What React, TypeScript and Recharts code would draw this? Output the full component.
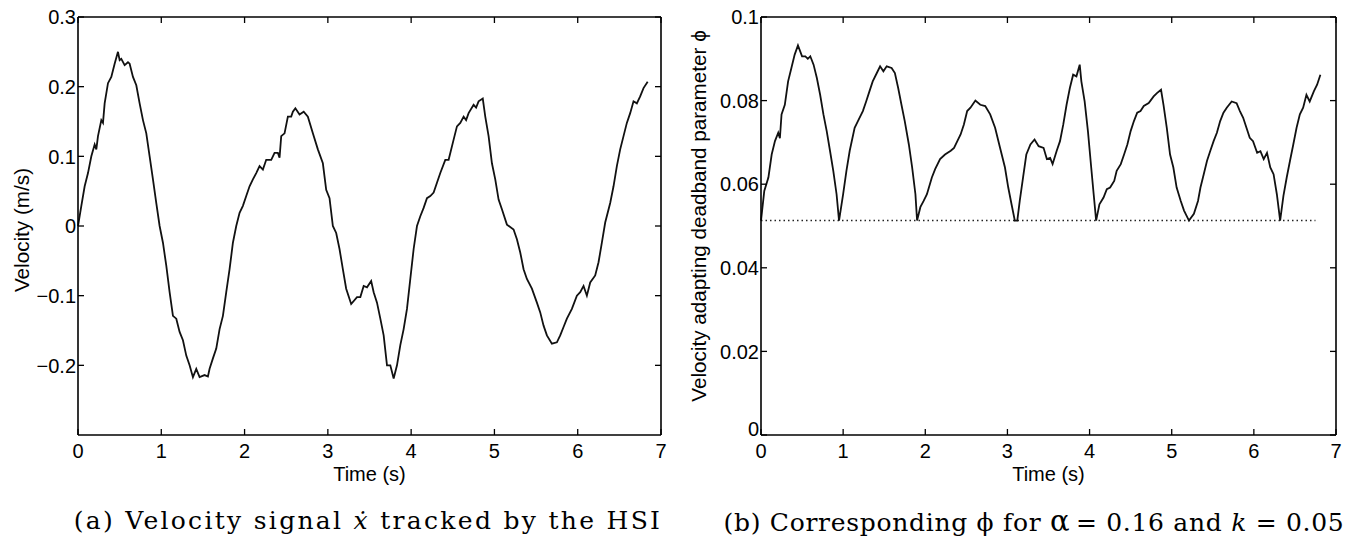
import React from "react";
import { LineChart, Line, XAxis, YAxis } from "recharts";

// ---- tick values ----
const timeTicks = [0, 1, 2, 3, 4, 5, 6, 7];
const velocityTicks = [-0.2, -0.1, 0, 0.1, 0.2, 0.3];
const phiTicks = [0, 0.02, 0.04, 0.06, 0.08, 0.1];

// ---- (a) velocity tracked by the HSI ----
const velTime = [
  0, 0.04, 0.08, 0.12, 0.16, 0.2, 0.22, 0.24, 0.28, 0.3,
  0.32, 0.36, 0.4, 0.44, 0.48, 0.5, 0.52, 0.56, 0.6, 0.62,
  0.66, 0.7, 0.74, 0.78, 0.82, 0.86, 0.9, 0.94, 0.98, 1.02,
  1.06, 1.1, 1.14, 1.18, 1.22, 1.26, 1.3, 1.34, 1.38, 1.42,
  1.46, 1.52, 1.56, 1.58, 1.62, 1.66, 1.7, 1.74, 1.78, 1.82,
  1.86, 1.9, 1.94, 1.98, 2.02, 2.06, 2.1, 2.14, 2.18, 2.22,
  2.26, 2.32, 2.36, 2.4, 2.42, 2.44, 2.48, 2.52, 2.56, 2.58,
  2.61, 2.66, 2.71, 2.76, 2.82, 2.88, 2.94, 2.98, 3.02, 3.06,
  3.1, 3.14, 3.18, 3.22, 3.28, 3.35, 3.39, 3.43, 3.47, 3.52,
  3.55, 3.59, 3.63, 3.67, 3.71, 3.75, 3.79, 3.83, 3.87, 3.91,
  3.95, 3.99, 4.03, 4.07, 4.11, 4.15, 4.19, 4.23, 4.27, 4.31,
  4.35, 4.41, 4.45, 4.51, 4.55, 4.59, 4.63, 4.66, 4.69, 4.75,
  4.78, 4.81, 4.86, 4.89, 4.93, 4.97, 5.01, 5.05, 5.09, 5.15,
  5.23, 5.27, 5.31, 5.35, 5.39, 5.45, 5.51, 5.55, 5.59, 5.63,
  5.69, 5.75, 5.79, 5.83, 5.87, 5.93, 5.99, 6.03, 6.07, 6.11,
  6.15, 6.21, 6.25, 6.29, 6.33, 6.39, 6.43, 6.47, 6.51, 6.55,
  6.59, 6.63, 6.67, 6.71, 6.75, 6.79, 6.84,
];
const velocity = [
  0, 0.029, 0.057, 0.076, 0.1, 0.117, 0.11, 0.129, 0.152, 0.148,
  0.176, 0.205, 0.214, 0.233, 0.25, 0.238, 0.24, 0.231, 0.235, 0.233,
  0.214, 0.202, 0.176, 0.152, 0.133, 0.1, 0.067, 0.033, 0, -0.024,
  -0.057, -0.095, -0.129, -0.133, -0.152, -0.164, -0.186, -0.2, -0.217, -0.205,
  -0.217, -0.214, -0.216, -0.205, -0.19, -0.176, -0.148, -0.129, -0.095, -0.062,
  -0.024, 0, 0.019, 0.029, 0.043, 0.057, 0.067, 0.076, 0.086, 0.081,
  0.095, 0.095, 0.105, 0.105, 0.098, 0.129, 0.133, 0.157, 0.157, 0.164,
  0.169, 0.16, 0.164, 0.157, 0.133, 0.11, 0.09, 0.052, 0.04, 0,
  -0.01, -0.033, -0.062, -0.09, -0.112, -0.102, -0.102, -0.086, -0.088, -0.079,
  -0.095, -0.11, -0.133, -0.157, -0.2, -0.2, -0.219, -0.2, -0.171, -0.148,
  -0.119, -0.076, -0.033, 0, 0.014, 0.026, 0.04, 0.043, 0.048, 0.062,
  0.076, 0.095, 0.095, 0.124, 0.143, 0.148, 0.157, 0.152, 0.162, 0.174,
  0.17, 0.179, 0.183, 0.157, 0.129, 0.09, 0.067, 0.038, 0.024, 0.002,
  -0.005, -0.019, -0.038, -0.062, -0.076, -0.09, -0.11, -0.124, -0.143, -0.157,
  -0.169, -0.167, -0.157, -0.145, -0.133, -0.119, -0.1, -0.095, -0.086, -0.1,
  -0.081, -0.071, -0.052, -0.024, 0.005, 0.033, 0.057, 0.086, 0.11, 0.129,
  0.148, 0.162, 0.179, 0.176, 0.186, 0.198, 0.207,
];

// ---- (b) deadband parameter phi ----
const phiTime = [
  0, 0.04, 0.09, 0.13, 0.17, 0.21, 0.23, 0.25, 0.29, 0.33,
  0.37, 0.41, 0.45, 0.5, 0.54, 0.57, 0.6, 0.64, 0.68, 0.72,
  0.76, 0.8, 0.84, 0.88, 0.92, 0.95, 1.0, 1.04, 1.08, 1.14,
  1.18, 1.24, 1.28, 1.32, 1.36, 1.41, 1.45, 1.49, 1.53, 1.59,
  1.63, 1.67, 1.71, 1.75, 1.8, 1.84, 1.88, 1.9, 1.94, 1.98,
  2.02, 2.08, 2.12, 2.18, 2.24, 2.31, 2.35, 2.39, 2.43, 2.47,
  2.51, 2.55, 2.61, 2.67, 2.73, 2.79, 2.85, 2.91, 2.97, 3.01,
  3.05, 3.09, 3.12, 3.15, 3.19, 3.23, 3.28, 3.33, 3.38, 3.44,
  3.48, 3.52, 3.55, 3.6, 3.64, 3.68, 3.72, 3.76, 3.8, 3.84,
  3.88, 3.9, 3.94, 3.98, 4.02, 4.05, 4.08, 4.12, 4.17, 4.21,
  4.25, 4.3, 4.33, 4.38, 4.42, 4.46, 4.5, 4.54, 4.58, 4.62,
  4.66, 4.72, 4.78, 4.82, 4.87, 4.9, 4.94, 4.98, 5.02, 5.06,
  5.11, 5.15, 5.21, 5.27, 5.32, 5.35, 5.39, 5.43, 5.47, 5.51,
  5.55, 5.59, 5.63, 5.67, 5.73, 5.79, 5.83, 5.87, 5.91, 5.95,
  5.99, 6.04, 6.08, 6.12, 6.16, 6.2, 6.24, 6.28, 6.32, 6.36,
  6.4, 6.44, 6.48, 6.52, 6.56, 6.6, 6.64, 6.68, 6.73, 6.77,
  6.81,
];
const phi = [
  0.0513, 0.0584, 0.0616, 0.0671, 0.0703, 0.0723, 0.071, 0.0767, 0.079, 0.0846,
  0.0878, 0.091, 0.0932, 0.0906, 0.0906, 0.09, 0.0906, 0.0886, 0.0854, 0.0814,
  0.0767, 0.0727, 0.068, 0.0632, 0.0576, 0.0513, 0.0576, 0.0632, 0.068, 0.0735,
  0.0751, 0.0775, 0.0798, 0.0822, 0.0846, 0.0866, 0.0882, 0.087, 0.0882, 0.0878,
  0.0866, 0.083, 0.079, 0.0751, 0.0695, 0.064, 0.0576, 0.0513, 0.0545, 0.056,
  0.0576, 0.0616, 0.0636, 0.066, 0.0671, 0.068, 0.0687, 0.0703, 0.0719, 0.0743,
  0.0775, 0.0783, 0.08, 0.079, 0.0787, 0.0767, 0.0735, 0.0687, 0.064, 0.0592,
  0.0552, 0.0513, 0.0513, 0.056, 0.0616, 0.0671, 0.0695, 0.0707, 0.0691, 0.0687,
  0.066, 0.0663, 0.0648, 0.068, 0.0703, 0.0743, 0.079, 0.083, 0.0862, 0.0858,
  0.0886, 0.0846, 0.0798, 0.0727, 0.064, 0.0576, 0.0513, 0.0552, 0.0568, 0.0588,
  0.0592, 0.0608, 0.0632, 0.0648, 0.0671, 0.0695, 0.0727, 0.0751, 0.0771, 0.0775,
  0.0787, 0.0794, 0.081, 0.0818, 0.0826, 0.079, 0.0735, 0.0671, 0.064, 0.0592,
  0.056, 0.0537, 0.0513, 0.0529, 0.056, 0.0592, 0.0624, 0.0656, 0.068, 0.0703,
  0.0723, 0.0751, 0.0771, 0.0783, 0.0798, 0.0794, 0.0775, 0.0759, 0.0735, 0.0711,
  0.0703, 0.0675, 0.0679, 0.066, 0.0675, 0.064, 0.0624, 0.0576, 0.0513, 0.0572,
  0.0616, 0.0656, 0.0695, 0.0735, 0.0767, 0.0783, 0.0814, 0.0798, 0.0822, 0.0838,
  0.0862,
];
// dotted lower bound of phi
const phiFloorTime = [0, 6.75];
const phiFloor = [0.0513, 0.0513];

const velData = velTime.map((t, i) => ({ t, v: velocity[i] }));
const phiData = phiTime.map((t, i) => ({ t, v: phi[i] }));
const floorData = phiFloorTime.map((t, i) => ({ t, v: phiFloor[i] }));

const SANS = '"Liberation Sans", Arial, Helvetica, sans-serif';
const tickFont = { fontSize: 20, fill: "#000", fontFamily: SANS };
const axisStroke = { stroke: "#000", strokeWidth: 1.6 };
const tickStroke = { stroke: "#000", strokeWidth: 1.3 };

const NoTick = () => <g />;

const fmtVel = (v: number) => (v < 0 ? "\u2212" + Math.abs(v) : String(v));

// y tick label; the zero label sits a little high so it clears the x "0"
function makeYTick(fmt: (v: number) => string, liftZero: number) {
  return (props: any) => {
    const { x, y, payload } = props;
    const lift = payload.value === 0 ? liftZero : 0;
    return (
      <text
        x={x}
        y={y - lift}
        dy="0.36em"
        textAnchor="end"
        fontSize={20}
        fill="#000"
        fontFamily={SANS}
      >
        {fmt(payload.value)}
      </text>
    );
  };
}

// box with inward ticks on all four sides, MATLAB style
function boxAxes(
  yDomain: number[],
  yTicks: number[],
  yFmt: (v: number) => string,
  liftZero: number,
  yWidth: number,
  yLabel: string,
  yLabelDx: number,
  yLabelDy: number
) {
  return [
    <XAxis
      key="xb"
      dataKey="t"
      type="number"
      domain={[0, 7]}
      ticks={timeTicks}
      interval={0}
      height={60}
      tickSize={-6}
      tickMargin={15}
      tick={tickFont}
      axisLine={axisStroke}
      tickLine={tickStroke}
      label={{
        value: "Time (s)",
        position: "center",
        dy: 9,
        style: { fontSize: 20, fill: "#000", fontFamily: SANS },
      }}
    />,
    <XAxis
      key="xt"
      xAxisId="top"
      orientation="top"
      dataKey="t"
      type="number"
      domain={[0, 7]}
      ticks={timeTicks}
      interval={0}
      height={1}
      tickSize={-6}
      tick={NoTick}
      axisLine={axisStroke}
      tickLine={tickStroke}
    />,
    <YAxis
      key="yl"
      type="number"
      domain={yDomain}
      ticks={yTicks}
      interval={0}
      width={yWidth}
      tickSize={-6}
      tickMargin={8}
      tick={makeYTick(yFmt, liftZero)}
      axisLine={axisStroke}
      tickLine={tickStroke}
      label={{
        value: yLabel,
        angle: -90,
        position: "center",
        dx: yLabelDx,
        dy: yLabelDy,
        style: { fontSize: 20.7, fill: "#000", fontFamily: SANS },
      }}
    />,
    <YAxis
      key="yr"
      yAxisId="right"
      orientation="right"
      type="number"
      domain={yDomain}
      ticks={yTicks}
      interval={0}
      width={1}
      tickSize={-6}
      tick={NoTick}
      axisLine={axisStroke}
      tickLine={tickStroke}
    />,
  ];
}

const captionStyle: React.CSSProperties = {
  position: "absolute",
  top: 506,
  fontFamily: '"DejaVu Serif", "Liberation Serif", serif',
  fontSize: 25,
  lineHeight: "30px",
  whiteSpace: "nowrap",
  color: "#000",
  transform: "translateX(-50%)",
};

export default function App() {
  return (
    <div style={{ position: "absolute", left: 0, top: 0, width: 1347, height: 542, background: "#fff", overflow: "hidden" }}>
      <div style={{ position: "absolute", left: 0, top: 0 }}>
        <LineChart width={680} height={542} data={velData} margin={{ top: 16, right: 18, bottom: 47, left: 0 }}>
          {boxAxes([-0.3, 0.3], velocityTicks, fmtVel, 0, 78, "Velocity (m/s)", -17, 4)}
          {/* invisible twin so the top and right frame axes get a scale */}
          <Line
            xAxisId="top"
            yAxisId="right"
            dataKey="v"
            stroke="none"
            dot={false}
            activeDot={false}
            isAnimationActive={false}
          />
          <Line
            dataKey="v"
            type="linear"
            stroke="#111"
            strokeWidth={1.8}
            dot={false}
            isAnimationActive={false}
          />
        </LineChart>
      </div>
      <div style={{ position: "absolute", left: 680, top: 0 }}>
        <LineChart width={667} height={542} data={phiData} margin={{ top: 16, right: 10, bottom: 47, left: 0 }}>
          {boxAxes([0, 0.1], phiTicks, (v) => String(v), 6, 81, "Velocity adapting deadband parameter \u03d5", -22, -10)}
          <Line
            xAxisId="top"
            yAxisId="right"
            data={floorData}
            dataKey="v"
            type="linear"
            stroke="#222"
            strokeWidth={1.5}
            strokeDasharray="1.5 3"
            dot={false}
            isAnimationActive={false}
          />
          <Line
            dataKey="v"
            type="linear"
            stroke="#111"
            strokeWidth={1.8}
            dot={false}
            isAnimationActive={false}
          />
        </LineChart>
      </div>
      <div style={{ ...captionStyle, left: 368, letterSpacing: 2.3 }}>
        (a) Velocity signal <i>{"\u1e8b"}</i> tracked by the HSI
      </div>
      <div style={{ ...captionStyle, left: 1034, letterSpacing: 0.7 }}>
        (b) Corresponding {"\u03d5"} for <span style={{ fontSize: 29 }}>{"\u03b1"}</span>{"\u2009"}= 0.16 and <i>k</i> = 0.05
      </div>
    </div>
  );
}
